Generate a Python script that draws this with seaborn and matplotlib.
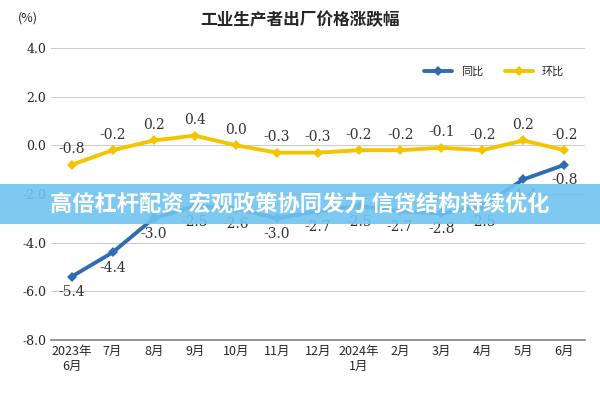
import matplotlib
matplotlib.use("Agg")
import matplotlib.pyplot as plt
import seaborn as sns
import pandas as pd
from matplotlib.patches import Rectangle

months = ["2023年\n6月","7月","8月","9月","10月","11月","12月","2024年\n1月","2月","3月","4月","5月","6月"]
yoy = [-5.4,-4.4,-3.0,-2.5,-2.6,-3.0,-2.7,-2.5,-2.7,-2.8,-2.5,-1.4,-0.8]
mom = [-0.8,-0.2,0.2,0.4,0.0,-0.3,-0.3,-0.2,-0.2,-0.1,-0.2,0.2,-0.2]

sns.set_theme(style="white")
plt.rcParams['font.family'] = ['Noto Sans CJK SC', 'DejaVu Sans']

df = pd.DataFrame({"x": list(range(len(months))) * 2,
                   "v": yoy + mom,
                   "s": ["同比"] * len(months) + ["环比"] * len(months)})

fig, ax = plt.subplots(figsize=(6, 4), dpi=100)
fig.subplots_adjust(left=0.085, right=0.975, top=0.88, bottom=0.15)
sns.lineplot(data=df, x="x", y="v", hue="s", palette={"同比": "#2e6db4", "环比": "#f5c400"},
             marker="D", markersize=5, linewidth=2.8, markeredgewidth=0, ax=ax)
ax.set_ylim(-8, 4)
ax.set_xlim(-0.5, len(months) - 0.5)
ax.set_yticks([-8, -6, -4, -2, 0, 2, 4])
ax.set_yticklabels([f"{t:.1f}" for t in [-8, -6, -4, -2, 0, 2, 4]], fontsize=9, family="serif")
ax.set_xticks(range(len(months)))
ax.set_xticklabels(months, fontsize=9)
ax.set_xlabel(""); ax.set_ylabel("")
ax.grid(axis="y", color="#cccccc", linewidth=0.8)
for s in ["top", "right", "left"]:
    ax.spines[s].set_visible(False)
ax.spines["bottom"].set_color("#888888")
ax.tick_params(axis="both", length=0)

for i, v in enumerate(yoy):
    ax.text(i, v - 0.35, f"{v:.1f}", ha="center", va="top", fontsize=10, family="serif", color="#333333")
for i, v in enumerate(mom):
    ax.text(i, v + 0.35, f"{v:.1f}", ha="center", va="bottom", fontsize=10, family="serif", color="#333333")

ax.legend(loc="upper right", bbox_to_anchor=(0.98, 0.97), ncol=2, frameon=False, fontsize=8, handlelength=2.5)
fig.text(0.5, 0.95, "工业生产者出厂价格涨跌幅", ha="center", va="center", fontsize=12, fontweight="bold")
fig.text(0.03, 0.955, "(%)", ha="left", va="center", fontsize=9)
fig.patches.append(Rectangle((0, 0.44), 1, 0.1, transform=fig.transFigure,
                             facecolor="#6fc3f0", alpha=0.9, edgecolor="none", zorder=10))
fig.text(0.5, 0.49, "高倍杠杆配资 宏观政策协同发力 信贷结构持续优化", ha="center", va="center",
         fontsize=16, color="white", fontweight="bold", zorder=11)
fig.savefig("out.png", dpi=100)
